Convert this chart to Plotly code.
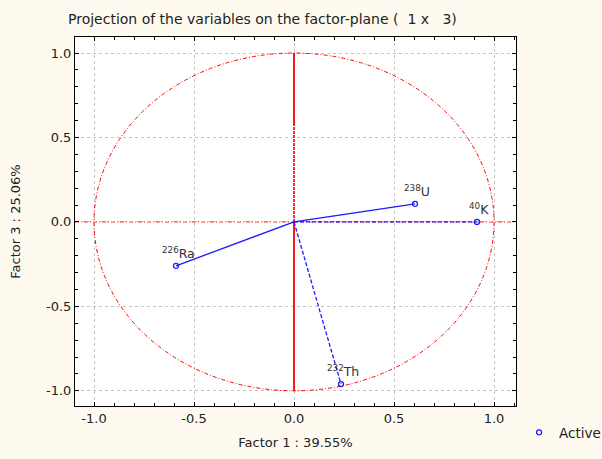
import plotly.graph_objects as go

variables = ["238U", "40K", "226Ra", "232Th"]
labels = ["<sup>238</sup>U", "<sup>40</sup>K", "<sup>226</sup>Ra", "<sup>232</sup>Th"]
factor1 = [0.605, 0.915, -0.59, 0.235]
factor3 = [0.107, 0.0, -0.26, -0.96]
line_dash = ["solid", "4px,2px", "solid", "4px,2px"]

x_ticks = [-1.0, -0.5, 0.0, 0.5, 1.0]
y_ticks = [-1.0, -0.5, 0.0, 0.5, 1.0]
tick_text = ["-1.0", "-0.5", "0.0", "0.5", "1.0"]

BLUE = "#1a1aff"
RED = "#ff0000"
FONT = "DejaVu Sans, Verdana, sans-serif"
TXT = "#222222"
DASHDOT = "4px,2px,1px,2px"

fig = go.Figure()

fig.add_shape(type="circle", xref="x", yref="y", x0=-1, y0=-1, x1=1, y1=1,
              line=dict(color=RED, width=1, dash=DASHDOT), layer="between")
fig.add_shape(type="line", xref="paper", yref="y", x0=0, x1=1, y0=0, y1=0,
              line=dict(color=RED, width=1, dash=DASHDOT), layer="between")
fig.add_shape(type="line", xref="x", yref="y", x0=0, x1=0, y0=0, y1=0.57,
              line=dict(color=RED, width=1.6, dash="3px,1px"), layer="between")
fig.add_shape(type="line", xref="x", yref="y", x0=0, x1=0, y0=0.57, y1=1,
              line=dict(color=RED, width=1.8), layer="between")
fig.add_shape(type="line", xref="x", yref="y", x0=0, x1=0, y0=-1, y1=0,
              line=dict(color=RED, width=1.8), layer="between")

for i, v in enumerate(variables):
    fig.add_trace(go.Scatter(
        x=[0, factor1[i]], y=[0, factor3[i]], mode="lines",
        line=dict(color=BLUE, width=1.3, dash=line_dash[i]),
        showlegend=False, hoverinfo="skip"))

fig.add_trace(go.Scatter(
    x=factor1, y=factor3, mode="markers", name="Active",
    marker=dict(symbol="circle-open", size=5, color=BLUE, line=dict(width=1.3, color=BLUE)),
    text=variables, showlegend=True))

for i in range(len(variables)):
    fig.add_annotation(x=factor1[i], y=factor3[i], text=labels[i], showarrow=False,
                       xanchor="center", yanchor="bottom", xshift=2, yshift=3,
                       font=dict(family=FONT, size=12.5, color="#333333"))

axis_common = dict(
    showline=True, linecolor="black", linewidth=1, mirror="ticks",
    ticks="inside", ticklen=4, tickcolor="black",
    showgrid=True, gridcolor="#c4c4c4", griddash="dot", gridwidth=1,
    zeroline=False,
    tickfont=dict(family=FONT, size=13, color=TXT),
    minor=dict(ticks="inside", ticklen=3, dtick=0.1, tickcolor="black", showgrid=False),
)

fig.update_layout(
    width=602, height=459,
    paper_bgcolor="#fffaf0", plot_bgcolor="white",
    margin=dict(l=75, r=86, t=37, b=53, autoexpand=False),
    title=dict(text="Projection of the variables on the factor-plane (  1 x   3)",
               x=68/602, xanchor="left", y=1-19/459, yanchor="middle",
               font=dict(family=FONT, size=14, color=TXT)),
    xaxis=dict(range=[-1.095, 1.11], tickvals=x_ticks, ticktext=tick_text,
               title=dict(text="Factor 1 : 39.55%", standoff=13,
                          font=dict(family=FONT, size=13, color=TXT)),
               **axis_common),
    yaxis=dict(range=[-1.09, 1.095], tickvals=y_ticks, ticktext=tick_text,
               title=dict(text="Factor 3 : 25.06%", standoff=22,
                          font=dict(family=FONT, size=13, color=TXT)),
               **axis_common),
    legend=dict(x=1.007, y=-0.03, xanchor="left", yanchor="top", bgcolor="rgba(0,0,0,0)",
                font=dict(family=FONT, size=13.5, color=TXT)),
    showlegend=True,
)

fig.write_html("out.html", config={"displayModeBar": False},
               post_script="document.body.style.margin='0';document.body.style.padding='0';")
